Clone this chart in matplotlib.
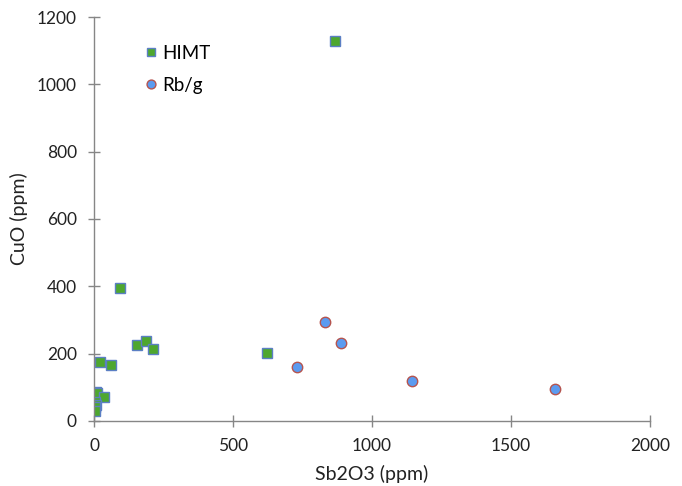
import matplotlib
matplotlib.use("Agg")
import matplotlib.pyplot as plt

# HIMT samples (Sb2O3 ppm, CuO ppm)
himt_sb = [867, 94, 153, 186, 213, 22, 60, 623, 6, 12, 34, 4, 8, 3, 2]
himt_cu = [1128, 395, 226, 236, 213, 174, 165, 202, 85, 82, 70, 57, 48, 40, 30]

# Rb/g samples
rbg_sb = [831, 887, 729, 1144, 1658]
rbg_cu = [295, 232, 160, 118, 94]

x_ticks = [0, 500, 1000, 1500, 2000]
y_ticks = [0, 200, 400, 600, 800, 1000, 1200]

plt.rcParams['font.family'] = ['Lato', 'DejaVu Sans']

fig = plt.figure(figsize=(6.82, 4.86), dpi=100)
ax = fig.add_axes([0.138, 0.134, 0.815, 0.831])

ax.plot(himt_sb, himt_cu, linestyle='none', marker='s', ms=7.5,
        markerfacecolor='#4ea72e', markeredgecolor='#5b7fc4', markeredgewidth=1,
        label='HIMT')
ax.plot(rbg_sb, rbg_cu, linestyle='none', marker='o', ms=7.5,
        markerfacecolor='#5b9bf0', markeredgecolor='#b5544f', markeredgewidth=1,
        label='Rb/g')

ax.set_xlim(0, 2000)
ax.set_ylim(0, 1200)
ax.set_xticks(x_ticks)
ax.set_yticks(y_ticks)

for s in ['top', 'right']:
    ax.spines[s].set_visible(False)
for s in ['left', 'bottom']:
    ax.spines[s].set_color('#868686')
    ax.spines[s].set_linewidth(1)
ax.tick_params(direction='inout', length=9, width=1, color='#868686',
               labelsize=12.5, labelcolor='#222222', pad=8)

ax.set_xlabel('Sb2O3 (ppm)', fontsize=14, color='#222222', labelpad=8)
ax.set_ylabel('CuO (ppm)', fontsize=14, color='#222222', labelpad=6)

ax.legend(loc='upper left', bbox_to_anchor=(0.056, 0.973), frameon=False,
          fontsize=13.5, handlelength=1.0, handletextpad=0.1,
          labelspacing=0.8, markerscale=0.85)

fig.savefig('out.png', dpi=100)
